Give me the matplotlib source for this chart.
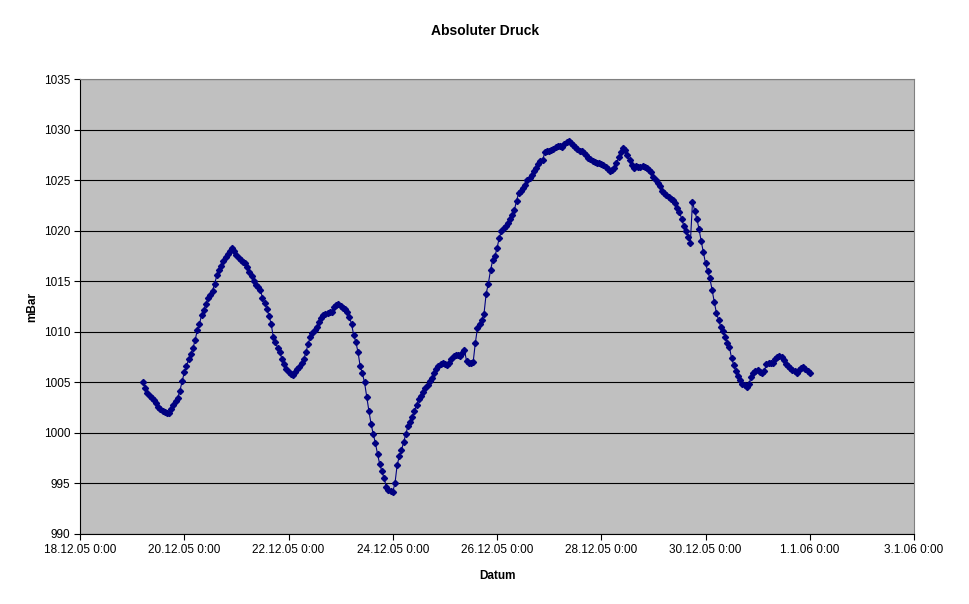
import numpy as np
import pandas as pd
import matplotlib
matplotlib.use("Agg")
import matplotlib.pyplot as plt
import matplotlib.dates as mdates
from matplotlib.ticker import FuncFormatter, MultipleLocator

plt.rcParams['font.family'] = ['Liberation Sans', 'DejaVu Sans']

# hourly readings, first one at 19.12.05 5:00
start = "2005-12-19 05:00"
druck = [
    1005.0, 1004.5, 1004.0, 1003.7, 1003.5, 1003.3, 1003.0, 1002.6, 1002.4, 1002.2, 1002.1, 1002.0,
    1002.0, 1002.4, 1002.8, 1003.2, 1003.5, 1004.2, 1005.1, 1006.0, 1006.6, 1007.3, 1007.8, 1008.4,
    1009.2, 1010.2, 1010.8, 1011.7, 1012.2, 1012.8, 1013.4, 1013.7, 1014.1, 1014.8, 1015.6, 1016.1,
    1016.5, 1017.0, 1017.4, 1017.7, 1018.0, 1018.3, 1018.0, 1017.6, 1017.3, 1017.1, 1016.9, 1016.8,
    1016.4, 1015.9, 1015.5, 1015.0, 1014.7, 1014.5, 1014.2, 1013.4, 1012.9, 1012.3, 1011.6, 1010.8,
    1009.5, 1009.0, 1008.4, 1008.0, 1007.3, 1006.8, 1006.3, 1006.0, 1005.8, 1005.7, 1006.0, 1006.3,
    1006.5, 1006.9, 1007.3, 1008.0, 1008.8, 1009.5, 1009.9, 1010.2, 1010.5, 1011.0, 1011.4, 1011.7,
    1011.8, 1011.9, 1012.0, 1012.0, 1012.5, 1012.7, 1012.8, 1012.6, 1012.4, 1012.3, 1012.0, 1011.5,
    1010.8, 1009.7, 1009.0, 1008.0, 1006.6, 1005.9, 1005.0, 1003.6, 1002.2, 1000.9, 999.9, 999.0,
    997.9, 996.9, 996.2, 995.5, 994.7, 994.4, 994.3, 994.2, 995.0, 996.8, 997.7, 998.3,
    999.1, 999.9, 1000.7, 1001.1, 1001.6, 1002.2, 1002.8, 1003.4, 1003.7, 1004.1, 1004.5, 1004.8,
    1005.1, 1005.4, 1005.9, 1006.3, 1006.6, 1006.8, 1006.9, 1006.8, 1006.7, 1006.9, 1007.3, 1007.6,
    1007.7, 1007.7, 1007.6, 1007.9, 1008.2, 1007.1, 1006.9, 1006.9, 1007.0, 1008.9, 1010.4, 1010.8,
    1011.2, 1011.8, 1013.8, 1014.8, 1016.1, 1017.1, 1017.5, 1018.3, 1019.3, 1020.0, 1020.3, 1020.5,
    1020.8, 1021.2, 1021.6, 1022.1, 1023.0, 1023.8, 1024.0, 1024.3, 1024.6, 1025.0, 1025.2, 1025.5,
    1025.9, 1026.2, 1026.6, 1026.9, 1027.0, 1027.8, 1027.9, 1027.9, 1028.0, 1028.1, 1028.3, 1028.4,
    1028.4, 1028.3, 1028.6, 1028.8, 1028.9, 1028.7, 1028.5, 1028.3, 1028.1, 1027.9, 1027.9, 1027.7,
    1027.5, 1027.2, 1027.1, 1026.9, 1026.8, 1026.7, 1026.7, 1026.6, 1026.5, 1026.3, 1026.1, 1025.9,
    1026.0, 1026.2, 1026.7, 1027.3, 1027.8, 1028.2, 1028.0, 1027.5, 1027.0, 1026.5, 1026.2, 1026.4,
    1026.3, 1026.3, 1026.4, 1026.3, 1026.2, 1026.0, 1025.8, 1025.3, 1025.0, 1024.8, 1024.5, 1024.0,
    1023.8, 1023.6, 1023.4, 1023.2, 1023.1, 1022.8, 1022.3, 1021.9, 1021.2, 1020.5, 1020.0, 1019.4,
    1018.8, 1022.9, 1022.0, 1021.2, 1020.2, 1019.0, 1017.9, 1016.8, 1016.0, 1015.3, 1014.2, 1013.0,
    1011.9, 1011.2, 1010.5, 1010.1, 1009.5, 1008.9, 1008.5, 1007.4, 1006.7, 1006.1, 1005.6, 1005.2,
    1004.9, 1004.8, 1004.6, 1004.9, 1005.5, 1005.9, 1006.1, 1006.2, 1006.0, 1005.9, 1006.1, 1006.8,
    1006.9, 1006.9, 1006.9, 1007.3, 1007.5, 1007.6, 1007.5, 1007.2, 1006.8, 1006.6, 1006.4, 1006.2,
    1006.1, 1005.9, 1006.2, 1006.4, 1006.5, 1006.3, 1006.1, 1005.9,
]
zeit = pd.date_range(start, periods=len(druck), freq="h")

x_start = pd.Timestamp("2005-12-18")
x_end = pd.Timestamp("2006-01-03")

fig = plt.figure(figsize=(9.7, 6.04), dpi=100)
ax = fig.add_axes([0.0825, 0.1159, 0.8598, 0.7525])
ax.set_facecolor('#C0C0C0')

ax.plot(zeit, druck, color='#000080', linewidth=0.8, marker='D', markersize=3.1,
        markerfacecolor='#000080', markeredgecolor='#000080', zorder=3)

ax.set_xlim(x_start, x_end)
ax.set_ylim(990, 1035)
ax.yaxis.set_major_locator(MultipleLocator(5))
ax.xaxis.set_major_locator(mdates.DayLocator(interval=2))


def fmt_datum(v, pos):
    d = mdates.num2date(v)
    return f"{d.day}.{d.month}.{d:%y} {d.hour}:{d:%M}"


ax.xaxis.set_major_formatter(FuncFormatter(fmt_datum))
ax.grid(axis='y', color='black', linewidth=0.8)
ax.set_axisbelow(True)

for s in ['top', 'right']:
    ax.spines[s].set_color('#808080')
for s in ['left', 'bottom']:
    ax.spines[s].set_color('black')
ax.tick_params(direction='out', length=4, width=0.8, labelsize=8.5, pad=3)

fig.text(0.5, 0.949, 'Absoluter Druck', ha='center', va='center', fontsize=10, fontweight='bold')
ax.set_xlabel('Datum', fontsize=8.5, fontweight='bold', labelpad=10)
ax.set_ylabel('mBar', fontsize=8.5, fontweight='bold', labelpad=4)

fig.savefig('out.png', dpi=100)
